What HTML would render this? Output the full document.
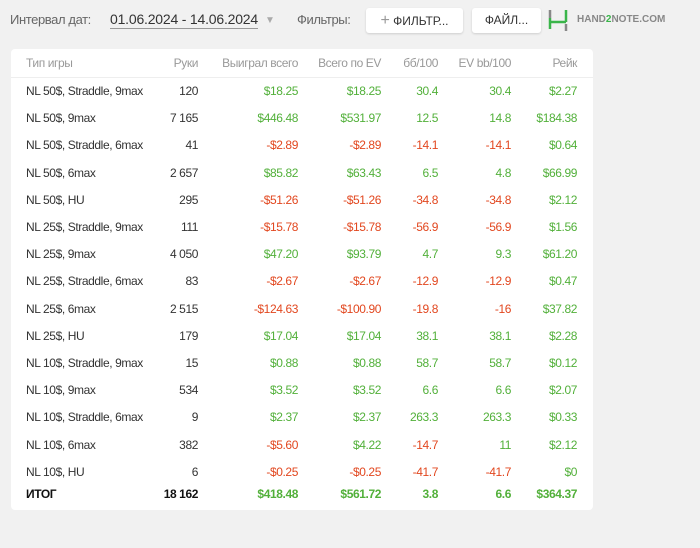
<!DOCTYPE html>
<html><head><meta charset="utf-8">
<style>
body{margin:0;width:700px;height:548px;background:#f1f1f1;font-family:"Liberation Sans","DejaVu Sans",sans-serif;position:relative;overflow:hidden;color:#333}
.top{position:absolute;top:12px;font-size:13px;color:#666;letter-spacing:-0.4px}
.btn{position:absolute;top:8px;height:25px;background:#fff;border-radius:3px;box-shadow:0 1px 2px rgba(0,0,0,.15);font-size:12px;color:#333;line-height:25px;text-align:center}
.card{position:absolute;left:11px;top:49px;width:582px;height:461px;background:#fff;border-radius:4px}
.r{position:absolute;left:0;width:582px;height:27px;font-size:12px;letter-spacing:-0.4px}
.r span{position:absolute;top:0;line-height:27px;white-space:nowrap}
.c0{left:15px}
.c1{right:395px;text-align:right}
.c2{right:295px}
.c3{right:212px}
.c4{right:155px}
.c5{right:82px}
.c6{right:16px}
.h{color:#999}
.g{color:#52b03a}.d{color:#e2471f}
.tot{font-weight:bold;color:#111}
</style></head><body>
<div class="top" style="left:10px">Интервал дат:</div>
<div class="top" style="left:110px;color:#333;border-bottom:1px solid #999;padding-bottom:1px;font-size:14px;top:11px;letter-spacing:-0.2px">01.06.2024 - 14.06.2024</div>
<div class="top" style="left:265px;color:#aaa;font-size:10px;top:15px">▼</div>
<div class="top" style="left:297px">Фильтры:</div>
<div class="btn" style="left:366px;width:97px"><span style="color:#999;font-size:16px">+</span> ФИЛЬТР...</div>
<div class="btn" style="left:472px;width:69px">ФАЙЛ...</div>
<svg style="position:absolute;left:546px;top:8px" width="26" height="26">
<path d="M4 2V10" stroke="#888" stroke-width="2.5"/>
<path d="M4 10V21M4 14H20M20 2V14" stroke="#3ab54a" stroke-width="2.5" fill="none"/>
<path d="M20 16V23" stroke="#888" stroke-width="2.5"/>
</svg>
<div class="top" style="left:577px;top:14px;font-size:10px;font-weight:bold;color:#888;letter-spacing:0">HAND<span style="color:#3ab54a">2</span>NOTE.COM</div>
<div class="card" id="card">
<div class="r h" style="top:1px;border-bottom:1px solid #eee">
<span class="c0">Тип игры</span><span class="c1">Руки</span><span class="c2">Выиграл всего</span><span class="c3">Всего по EV</span><span class="c4">бб/100</span><span class="c5">EV bb/100</span><span class="c6">Рейк</span></div>
</div>
<script>
const games=["NL 50$, Straddle, 9max","NL 50$, 9max","NL 50$, Straddle, 6max","NL 50$, 6max","NL 50$, HU","NL 25$, Straddle, 9max","NL 25$, 9max","NL 25$, Straddle, 6max","NL 25$, 6max","NL 25$, HU","NL 10$, Straddle, 9max","NL 10$, 9max","NL 10$, Straddle, 6max","NL 10$, 6max","NL 10$, HU"];
const hands=["120","7 165","41","2 657","295","111","4 050","83","2 515","179","15","534","9","382","6"];
const won=["$18.25","$446.48","-$2.89","$85.82","-$51.26","-$15.78","$47.20","-$2.67","-$124.63","$17.04","$0.88","$3.52","$2.37","-$5.60","-$0.25"];
const ev=["$18.25","$531.97","-$2.89","$63.43","-$51.26","-$15.78","$93.79","-$2.67","-$100.90","$17.04","$0.88","$3.52","$2.37","$4.22","-$0.25"];
const bb=["30.4","12.5","-14.1","6.5","-34.8","-56.9","4.7","-12.9","-19.8","38.1","58.7","6.6","263.3","-14.7","-41.7"];
const evbb=["30.4","14.8","-14.1","4.8","-34.8","-56.9","9.3","-12.9","-16","38.1","58.7","6.6","263.3","11","-41.7"];
const rake=["$2.27","$184.38","$0.64","$66.99","$2.12","$1.56","$61.20","$0.47","$37.82","$2.28","$0.12","$2.07","$0.33","$2.12","$0"];
const card=document.getElementById('card');
function cls(v){return v.startsWith('-')?'d':'g';}
for(let i=0;i<games.length;i++){
 const r=document.createElement('div');
 r.className='r';
 r.style.top=(29+i*27.2)+'px';
 
 
 r.innerHTML=`<span class="c0">${games[i]}</span><span class="c1">${hands[i]}</span><span class="c2 ${cls(won[i])}">${won[i]}</span><span class="c3 ${cls(ev[i])}">${ev[i]}</span><span class="c4 ${cls(bb[i])}">${bb[i]}</span><span class="c5 ${cls(evbb[i])}">${evbb[i]}</span><span class="c6 g">${rake[i]}</span>`;
 card.appendChild(r);
}
const t=document.createElement('div');
t.className='r';
t.style.top='432px';


t.innerHTML=`<span class="c0 tot">ИТОГ</span><span class="c1 tot">18 162</span><span class="c2 g" style="font-weight:bold">$418.48</span><span class="c3 g" style="font-weight:bold">$561.72</span><span class="c4 g" style="font-weight:bold">3.8</span><span class="c5 g" style="font-weight:bold">6.6</span><span class="c6 g" style="font-weight:bold">$364.37</span>`;
card.appendChild(t);
</script>
</body></html>
